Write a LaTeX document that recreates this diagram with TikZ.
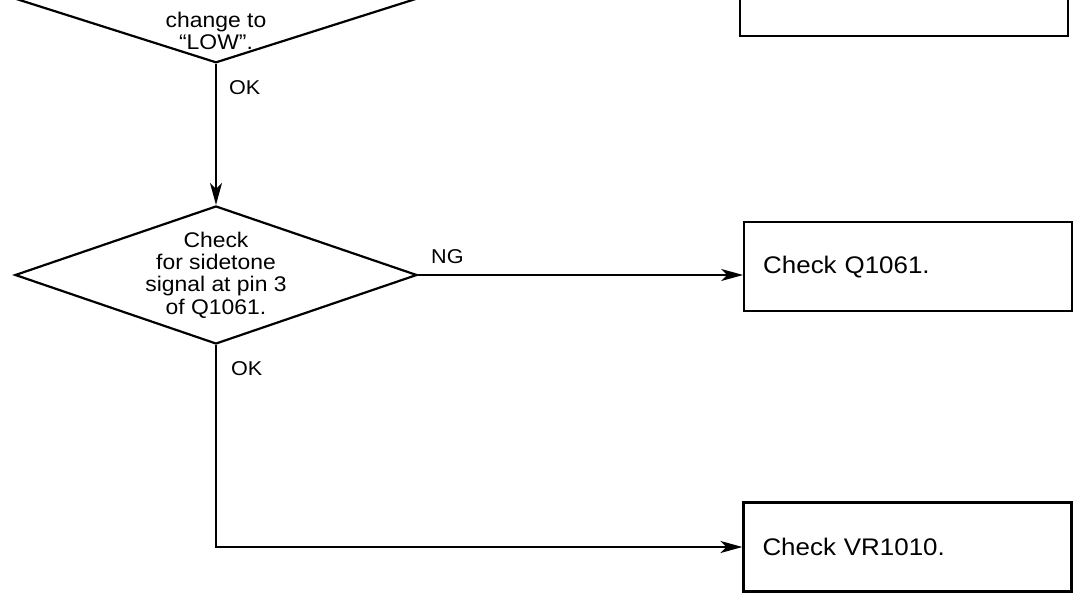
\documentclass[tikz,border=0pt]{standalone}
\usepackage{fontspec}
\setmainfont{Liberation Sans}[FakeStretch=1.08]
\usetikzlibrary{shapes.geometric,arrows.meta,positioning}

\begin{document}
\begin{tikzpicture}[
    x=0.5pt, y=-0.5pt,
    line width=1.1pt,
    decision/.style={diamond, draw, inner sep=0pt, aspect=2.9, minimum width=201pt, minimum height=69pt, align=center, font=\fontsize{10.6}{11.2}\selectfont},
    action/.style={rectangle, draw, minimum width=164pt, minimum height=44.5pt, text width=145pt, inner xsep=9.5pt, align=left, font=\fontsize{12}{15}\selectfont},
    dtext/.style={align=center, inner sep=0pt, font=\fontsize{10.6}{11.2}\selectfont},
    tag/.style={inner sep=0pt, font=\fontsize{10}{12}\selectfont},
    arrow/.style={-{Stealth[length=11pt, width=6pt, inset=3pt]}},
  ]
    \useasboundingbox (0,0) rectangle (1079,597);

    % Decisions
    \node[decision] (check) at (216,275) {Check\\for sidetone\\signal at pin 3\\of Q1061.};
    \node[decision, minimum width=207pt, minimum height=66pt, above=70.5pt of check] (prev) {};
    \node[dtext, yshift=16.5pt] (prevtext) at (prev.south) {change to\\``LOW''.};

    % Actions
    \node[action, right=162.5pt of check, yshift=4.2pt] (checkq) {Check Q1061.};
    \node[action, above=92pt of checkq, xshift=-2pt] (prevbox) {};
    \node[action] (checkvr) at (907.5,547) {Check VR1010.};

    % Arrows
    \draw[arrow] (prev.south) -- node[tag, at start, below right=8pt and 6pt] {OK} (check.north);
    \draw[arrow] (check.east) -- node[tag, at start, above right=5pt and 6pt] {NG} (check.east -| checkq.west);
    \draw[arrow] (check.south) |- node[tag, at start, below right=7.5pt and 7pt] {OK} (checkvr.west);
  \end{tikzpicture}
\end{document}
